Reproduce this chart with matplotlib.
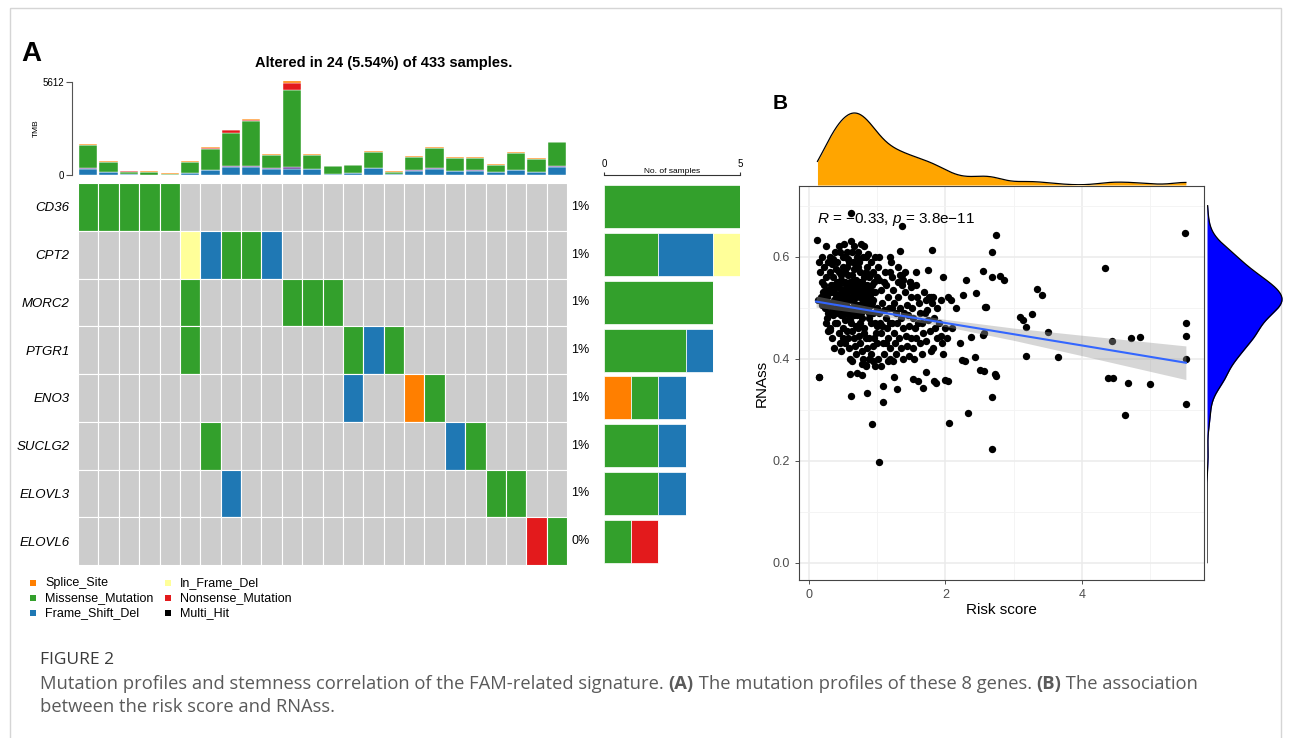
import numpy as np
import matplotlib
matplotlib.use("Agg")
import matplotlib.pyplot as plt
import matplotlib.transforms as mtransforms
from matplotlib.patches import Rectangle

plt.rcParams["font.family"] = ["Liberation Sans", "DejaVu Sans"]
plt.rcParams["mathtext.fontset"] = "custom"
plt.rcParams["mathtext.it"] = "Liberation Sans:italic"
plt.rcParams["mathtext.rm"] = "Liberation Sans"

W, H = 1290, 738

# ---------------- panel A data ----------------
genes = ["CD36", "CPT2", "MORC2", "PTGR1", "ENO3", "SUCLG2", "ELOVL3", "ELOVL6"]
gene_pct = ["1%", "1%", "1%", "1%", "1%", "1%", "1%", "0%"]
# S splice, M missense, F frame shift del, I in frame del, N nonsense, . none
onco = [
    "MMMMM...................",
    ".....IFMMF..............",
    ".....M....MMM...........",
    ".....M.......MFM........",
    ".............F..SM......",
    "......M...........FM....",
    ".......F............MM..",
    "......................NM",
]

# TMB stacked bar per sample
tmb_fs_del = [340, 180, 40, 30, 20, 140, 300, 480, 480, 340, 380, 340, 40, 140, 420, 40, 260, 360, 260, 240, 160, 300, 200, 460]
tmb_fs_ins = [80, 0, 0, 0, 0, 0, 0, 60, 60, 60, 80, 0, 0, 0, 0, 0, 40, 60, 0, 40, 0, 0, 0, 60]
tmb_missense = [1402, 613, 170, 150, 50, 650, 1240, 2015, 2745, 812, 4690, 850, 500, 480, 950, 160, 770, 1180, 790, 770, 440, 1020, 760, 1450]
tmb_nonsense = [0, 0, 30, 20, 0, 0, 100, 150, 40, 0, 400, 0, 0, 0, 0, 0, 0, 0, 0, 0, 0, 0, 0, 0]
tmb_splice = [60, 30, 20, 20, 30, 50, 40, 40, 80, 50, 100, 50, 20, 0, 50, 60, 50, 60, 30, 30, 40, 40, 40, 50]
tmb_max = 5612

vc_names = ["Splice_Site", "Missense_Mutation", "Frame_Shift_Del", "In_Frame_Del", "Nonsense_Mutation", "Multi_Hit"]
vc_codes = ["S", "M", "F", "I", "N", "H"]
vc_colors = ["#FF7F00", "#33A02C", "#1F78B4", "#FFFF99", "#E31A1C", "black"]
purple = "#6A3D9A"
bg_gray = "#CCCCCC"

# ---------------- panel B data ----------------
# dense part of the cloud (risk score, RNAss)
dense_pts = [
    (0.12, 0.633), (0.15, 0.365), (0.14, 0.59), (0.16, 0.57), (0.18, 0.55), (0.17, 0.52), (0.13, 0.515), (0.19, 0.60), (0.2, 0.53), (0.18, 0.505),
    (0.22, 0.58), (0.24, 0.56), (0.21, 0.545), (0.25, 0.62), (0.27, 0.59), (0.23, 0.50), (0.26, 0.48), (0.28, 0.455), (0.29, 0.53), (0.22, 0.515),
    (0.27, 0.51), (0.3, 0.57), (0.25, 0.47),
    (0.31, 0.60), (0.33, 0.585), (0.35, 0.56), (0.32, 0.545), (0.38, 0.61), (0.36, 0.53), (0.34, 0.50), (0.37, 0.49), (0.39, 0.575), (0.31, 0.46),
    (0.33, 0.44), (0.36, 0.42), (0.39, 0.52), (0.35, 0.595), (0.4, 0.55), (0.38, 0.47), (0.32, 0.51),
    (0.41, 0.59), (0.43, 0.57), (0.45, 0.61), (0.47, 0.555), (0.42, 0.54), (0.44, 0.525), (0.46, 0.50), (0.48, 0.485), (0.49, 0.58), (0.41, 0.47),
    (0.43, 0.45), (0.45, 0.43), (0.47, 0.415), (0.5, 0.60), (0.48, 0.535), (0.46, 0.565), (0.44, 0.62), (0.42, 0.505), (0.5, 0.46), (0.49, 0.44),
    (0.51, 0.625), (0.53, 0.60), (0.55, 0.58), (0.57, 0.565), (0.52, 0.55), (0.54, 0.535), (0.56, 0.52), (0.58, 0.50), (0.59, 0.59), (0.51, 0.49),
    (0.53, 0.475), (0.55, 0.455), (0.57, 0.44), (0.59, 0.42), (0.6, 0.40), (0.52, 0.57), (0.56, 0.61), (0.58, 0.545), (0.54, 0.51), (0.6, 0.475),
    (0.57, 0.595), (0.53, 0.43),
    (0.61, 0.63), (0.62, 0.61), (0.64, 0.59), (0.66, 0.575), (0.68, 0.555), (0.63, 0.54), (0.65, 0.525), (0.67, 0.505), (0.69, 0.49), (0.61, 0.47),
    (0.63, 0.455), (0.65, 0.44), (0.67, 0.425), (0.69, 0.41), (0.62, 0.395), (0.7, 0.60), (0.66, 0.62), (0.64, 0.50), (0.68, 0.465), (0.7, 0.53),
    (0.62, 0.565), (0.69, 0.58), (0.66, 0.485),
    (0.71, 0.61), (0.73, 0.59), (0.75, 0.57), (0.77, 0.55), (0.72, 0.535), (0.74, 0.52), (0.76, 0.50), (0.78, 0.48), (0.79, 0.60), (0.71, 0.46),
    (0.73, 0.445), (0.75, 0.43), (0.77, 0.415), (0.79, 0.40), (0.8, 0.56), (0.72, 0.505), (0.76, 0.625), (0.78, 0.53), (0.74, 0.47), (0.8, 0.45),
    (0.71, 0.58), (0.77, 0.39),
    (0.81, 0.62), (0.83, 0.60), (0.85, 0.58), (0.87, 0.56), (0.82, 0.54), (0.84, 0.52), (0.86, 0.50), (0.88, 0.48), (0.89, 0.565), (0.81, 0.46),
    (0.83, 0.44), (0.85, 0.42), (0.87, 0.40), (0.84, 0.385), (0.9, 0.53), (0.82, 0.50), (0.88, 0.44), (0.86, 0.605), (0.9, 0.47), (0.84, 0.57),
    (0.91, 0.59), (0.93, 0.57), (0.95, 0.55), (0.97, 0.53), (0.92, 0.51), (0.94, 0.49), (0.96, 0.47), (0.98, 0.45), (0.99, 0.43), (0.91, 0.41),
    (0.93, 0.395), (0.96, 0.385), (1.0, 0.56), (0.92, 0.545), (0.97, 0.60), (0.95, 0.44), (0.99, 0.50), (0.94, 0.425), (1.0, 0.465),
    (1.01, 0.58), (1.03, 0.555), (1.05, 0.535), (1.07, 0.51), (1.02, 0.49), (1.04, 0.47), (1.06, 0.45), (1.08, 0.43), (1.09, 0.41), (1.01, 0.40),
    (1.1, 0.55), (1.03, 0.60), (1.07, 0.465), (1.05, 0.385), (1.09, 0.495),
    (1.11, 0.57), (1.13, 0.545), (1.15, 0.52), (1.17, 0.50), (1.12, 0.48), (1.14, 0.46), (1.16, 0.44), (1.18, 0.42), (1.19, 0.40), (1.2, 0.59),
    (1.12, 0.43), (1.18, 0.47), (1.15, 0.395),
    (1.21, 0.56), (1.23, 0.535), (1.25, 0.51), (1.27, 0.49), (1.22, 0.47), (1.24, 0.45), (1.26, 0.43), (1.28, 0.41), (1.3, 0.55), (1.23, 0.395),
    (1.29, 0.47), (1.21, 0.50),
    (1.31, 0.52), (1.33, 0.50), (1.35, 0.48), (1.37, 0.46), (1.32, 0.44), (1.34, 0.42), (1.36, 0.545), (1.38, 0.40), (1.4, 0.57), (1.39, 0.49),
    (1.33, 0.565),
    (1.41, 0.53), (1.43, 0.505), (1.45, 0.485), (1.47, 0.465), (1.42, 0.445), (1.44, 0.425), (1.46, 0.405), (1.48, 0.55), (1.5, 0.52), (1.49, 0.44),
    (1.51, 0.50), (1.53, 0.48), (1.55, 0.46), (1.57, 0.44), (1.52, 0.42), (1.58, 0.52), (1.56, 0.545), (1.6, 0.47), (1.54, 0.40),
    (1.61, 0.51), (1.63, 0.49), (1.65, 0.47), (1.67, 0.45), (1.62, 0.43), (1.68, 0.53), (1.66, 0.41), (1.7, 0.49),
    (1.71, 0.515), (1.73, 0.495), (1.75, 0.475), (1.77, 0.455), (1.72, 0.435), (1.78, 0.52), (1.79, 0.415),
    (1.81, 0.52), (1.83, 0.48), (1.85, 0.46), (1.87, 0.44), (1.82, 0.42), (1.88, 0.50),
    (1.91, 0.47), (1.93, 0.445), (1.95, 0.43), (1.97, 0.41), (1.99, 0.46), (2.02, 0.44), (2.04, 0.52),
]
# extra points filling the core of the cloud
core_pts = [
    (0.26, 0.52), (0.28, 0.535), (0.3, 0.505), (0.32, 0.53), (0.34, 0.545), (0.36, 0.515), (0.37, 0.54), (0.4, 0.50), (0.41, 0.525), (0.43, 0.545),
    (0.45, 0.515), (0.47, 0.535), (0.48, 0.505), (0.5, 0.525), (0.52, 0.515), (0.54, 0.545), (0.55, 0.50), (0.56, 0.53), (0.58, 0.515), (0.6, 0.535),
    (0.61, 0.52), (0.63, 0.55), (0.64, 0.53), (0.65, 0.51), (0.67, 0.54), (0.68, 0.52), (0.7, 0.505), (0.72, 0.545), (0.73, 0.525), (0.74, 0.55),
    (0.75, 0.495), (0.77, 0.535), (0.78, 0.51), (0.8, 0.525), (0.81, 0.545), (0.82, 0.515), (0.83, 0.53), (0.85, 0.545), (0.86, 0.51), (0.88, 0.535),
    (0.89, 0.52), (0.9, 0.505), (0.92, 0.53), (0.94, 0.515), (0.24, 0.505), (0.28, 0.49), (0.35, 0.485), (0.42, 0.49), (0.46, 0.485), (0.52, 0.49),
    (0.58, 0.485), (0.64, 0.49), (0.7, 0.485), (0.76, 0.49), (0.82, 0.495), (0.88, 0.49), (0.2, 0.51), (0.23, 0.53), (0.44, 0.55), (0.6, 0.55),
]
# sparse points and outliers
sparse_pts = [
    (0.61, 0.685), (1.366, 0.660), (1.806, 0.613), (1.33, 0.611), (1.19, 0.60), (0.147, 0.364), (0.608, 0.326), (0.852, 0.333),
    (0.92, 0.271), (1.03, 0.197), (1.08, 0.315), (1.29, 0.340), (1.665, 0.343), (2.056, 0.273), (2.33, 0.294), (2.68, 0.324),
    (2.68, 0.222), (0.6, 0.37), (0.7, 0.372), (0.77, 0.368), (0.84, 0.387), (1.08, 0.346), (1.25, 0.364), (1.53, 0.36),
    (1.59, 0.357), (1.71, 0.374), (1.83, 0.356), (1.86, 0.352), (1.99, 0.358), (2.03, 0.356), (2.50, 0.378), (2.56, 0.376),
    (2.43, 0.404), (2.24, 0.397), (2.29, 0.396), (2.21, 0.431), (2.37, 0.443), (2.55, 0.446), (2.57, 0.45), (2.10, 0.460),
    (2.45, 0.528), (2.59, 0.501), (2.30, 0.554), (2.26, 0.524), (1.96, 0.561), (2.555, 0.571), (2.69, 0.561), (2.80, 0.563),
    (2.86, 0.554), (2.74, 0.642), (2.68, 0.609), (3.35, 0.536), (3.41, 0.524), (3.27, 0.488), (3.09, 0.482), (3.14, 0.476),
    (3.18, 0.462), (3.50, 0.452), (3.18, 0.405), (3.65, 0.404), (4.34, 0.578), (4.45, 0.435), (4.72, 0.441), (4.86, 0.443),
    (5.51, 0.647), (5.53, 0.469), (5.53, 0.444), (5.53, 0.399), (5.53, 0.311), (4.39, 0.362), (4.46, 0.362), (4.68, 0.352),
    (5.01, 0.350), (4.64, 0.289), (2.74, 0.366), (2.72, 0.37), (1.94, 0.515), (2.08, 0.515), (2.16, 0.499), (1.76, 0.52),
    (1.8, 0.51), (1.74, 0.574), (1.57, 0.569), (1.48, 0.55), (1.49, 0.54), (1.3, 0.58), (1.36, 0.565), (1.38, 0.555),
    (1.18, 0.57), (2.58, 0.501), (0.3, 0.456),
]
# linear fit with 95% band
fit_x = [0.1, 1.0, 2.0, 3.0, 4.0, 5.53]
fit_y = [0.512, 0.492, 0.470, 0.448, 0.426, 0.392]
fit_half = [0.011, 0.007, 0.007, 0.012, 0.020, 0.033]
stat_label = r"$R$ = −0.33, $p$ = 3.8e−11"

pts = np.array(dense_pts + core_pts + sparse_pts)
risk_score = pts[:, 0]
rnass = pts[:, 1]


def kde(values, grid):
    n = len(values)
    sd = values.std(ddof=1)
    iqr = np.subtract(*np.percentile(values, [75, 25]))
    bw = 0.9 * min(sd, iqr / 1.34) * n ** -0.2
    z = (grid[:, None] - values[None, :]) / bw
    return np.exp(-0.5 * z ** 2).sum(axis=1) / (n * bw * np.sqrt(2 * np.pi))


fig = plt.figure(figsize=(W / 100, H / 100), dpi=100)


def px_axes(x0, y0, x1, y1):
    return fig.add_axes([x0 / W, 1 - y1 / H, (x1 - x0) / W, (y1 - y0) / H])


# overlay in pixel coords for frame, letters, legend, caption
ov = px_axes(0, 0, W, H)
ov.set_xlim(0, W)
ov.set_ylim(H, 0)
ov.axis("off")
ov.add_patch(Rectangle((10, 8), 1271, 760, fill=False, ec="#D5D5D5", lw=1))
ov.text(21, 61, "A", fontsize=20, fontweight="bold", va="baseline")
ov.text(773, 109, "B", fontsize=15, fontweight="bold", va="baseline")
ov.text(384, 67, "Altered in 24 (5.54%) of 433 samples.", fontsize=10.5,
        fontweight="bold", ha="center", va="baseline")

# ---- TMB bars ----
tmb_ax = px_axes(78, 82, 567, 175)
cols = np.arange(len(tmb_fs_del)) + 0.5
bottom = np.zeros(len(cols))
for vals, color in [(tmb_fs_del, vc_colors[2]), (tmb_fs_ins, purple), (tmb_missense, vc_colors[1]),
                    (tmb_nonsense, vc_colors[4]), (tmb_splice, vc_colors[0])]:
    tmb_ax.bar(cols, vals, width=0.9, bottom=bottom, color=color, edgecolor="white",
               linewidth=0.3, clip_on=False)
    bottom += np.array(vals)
tmb_ax.set_xlim(0, 24)
tmb_ax.set_ylim(0, tmb_max)
for s in ["top", "right", "bottom"]:
    tmb_ax.spines[s].set_visible(False)
tmb_ax.spines["left"].set_position(("outward", 4))
tmb_ax.spines["left"].set_bounds(0, tmb_max)
tmb_ax.spines["left"].set_color("#555555")
tmb_ax.set_xticks([])
tmb_ax.set_yticks([0, tmb_max])
tmb_ax.tick_params(axis="y", labelsize=7, length=4, color="#555555", pad=2)
tmb_ax.set_ylabel("TMB", fontsize=6, labelpad=2)
tmb_ax.patch.set_visible(False)

# ---- oncoplot ----
onc = px_axes(78, 183, 567, 565)
code_color = dict(zip(vc_codes, vc_colors))
for r, row in enumerate(onco):
    for c, code in enumerate(row):
        onc.bar(c + 0.5, 1, bottom=r, width=1, color=code_color.get(code, bg_gray),
                edgecolor="white", linewidth=0.8)
onc.set_xlim(0, 24)
onc.set_ylim(len(genes), 0)
onc.set_xticks([])
onc.set_yticks(np.arange(len(genes)) + 0.5)
onc.set_yticklabels(genes, fontsize=9.5, fontstyle="italic")
onc.tick_params(axis="y", length=0, pad=6)
for s in onc.spines.values():
    s.set_visible(False)
for r, pct in enumerate(gene_pct):
    onc.text(24.2, r + 0.5, pct, fontsize=9, va="center", ha="left")

# ---- samples per gene ----
rb = px_axes(604, 183, 740, 565)
left = np.zeros(len(genes))
for code, color in zip(vc_codes, vc_colors):
    counts = np.array([row.count(code) for row in onco])
    rb.barh(np.arange(len(genes)) + 0.5, counts, left=left, height=0.9, color=color,
            edgecolor="white", linewidth=0.5)
    left += counts
rb.set_xlim(0, 5)
rb.set_ylim(len(genes), 0)
rb.set_yticks([])
for s in ["left", "right", "bottom"]:
    rb.spines[s].set_visible(False)
rb.spines["top"].set_position(("outward", 5.8))
rb.spines["top"].set_bounds(0, 5)
rb.spines["top"].set_color("#333333")
rb.xaxis.tick_top()
rb.set_xticks([0, 5])
rb.tick_params(axis="x", labelsize=7, length=2.5, pad=2, color="#333333")
rb.patch.set_visible(False)
rb.text(2.5, 1.031, "No. of samples", fontsize=6, ha="center", va="center",
        transform=mtransforms.blended_transform_factory(rb.transData, rb.transAxes))

# ---- legend ----
for i, (name, color) in enumerate(zip(vc_names, vc_colors)):
    colx = [33, 168][i // 3]
    rowy = [583, 598, 613][i % 3]
    ov.scatter([colx], [rowy], marker="s", s=14, color=color, linewidths=0)
    ov.text(colx + 12, rowy, name, fontsize=9, va="center", ha="left")

# ---------------- panel B ----------------
xlim = (-0.151, 5.796)
ylim = (-0.034, 0.7386)
sc = px_axes(799, 186, 1204, 580)
sc.set_xlim(*xlim)
sc.set_ylim(*ylim)
sc.set_xticks([0, 2, 4])
sc.set_xticks([1, 3, 5], minor=True)
sc.set_yticks([0, 0.2, 0.4, 0.6])
sc.set_yticklabels(["0.0", "0.2", "0.4", "0.6"])
sc.set_yticks([0.1, 0.3, 0.5, 0.7], minor=True)
sc.grid(which="major", color="#EBEBEB", lw=1.1)
sc.grid(which="minor", color="#F3F3F3", lw=0.6)
sc.set_axisbelow(True)
sc.tick_params(which="major", labelsize=9, labelcolor="#4D4D4D", color="#333333", length=2.75, width=0.6)
sc.tick_params(which="minor", length=0)
for s in sc.spines.values():
    s.set_color("#444444")
    s.set_linewidth(0.8)
sc.set_xlabel("Risk score", fontsize=11, labelpad=2)
sc.set_ylabel("RNAss", fontsize=11, labelpad=3)
sc.text(0.113, 0.666, stat_label, fontsize=11, zorder=2)
sc.scatter(risk_score, rnass, s=28, color="black", linewidths=0, zorder=3)
fx = np.array(fit_x)
fy = np.array(fit_y)
fh = np.array(fit_half)
sc.fill_between(fx, fy - fh, fy + fh, color="#999999", alpha=0.4, lw=0, zorder=4)
sc.plot(fx, fy, color="#3366FF", lw=1.5, zorder=5)

# marginal densities
gx = np.linspace(risk_score.min(), risk_score.max(), 512)
dx = kde(risk_score, gx)
td = px_axes(799, 105, 1204, 185)
td.fill_between(gx, 0, dx, color="#FFA500", lw=0)
td.plot(gx, dx, color="black", lw=0.9)
td.set_xlim(*xlim)
td.set_ylim(0, dx.max() * 1.111)
td.axis("off")

gy = np.linspace(0.0, 0.70, 512)
dy = kde(rnass, gy)
rd = px_axes(1207, 186, 1290, 580)
rd.fill_betweenx(gy, 0, dy, color="#0000FF", lw=0)
rd.plot(dy, gy, color="black", lw=0.9)
rd.set_ylim(*ylim)
rd.set_xlim(0, dy.max() * 83 / 75)
rd.axis("off")

# ---------------- caption ----------------
cap_font = ["Open Sans", "DejaVu Sans"]
cap_size = 13.2
cap_color = "#5A5A5A"
ov.text(40, 664, "FIGURE 2", fontsize=12.5, color="#3A3A3A", family=cap_font, va="baseline")
pieces = [("Mutation profiles and stemness correlation of the FAM-related signature. ", "normal"),
          ("(A)", "bold"), (" The mutation profiles of these 8 genes. ", "normal"),
          ("(B)", "bold"), (" The association", "normal")]
prev = None
for txt, wt in pieces:
    if prev is None:
        prev = ov.text(40, 693, txt, fontsize=cap_size, color=cap_color, family=cap_font,
                       fontweight=wt, va="bottom")
    else:
        prev = ov.annotate(txt, xy=(1, 0), xycoords=prev, fontsize=cap_size, color=cap_color,
                           family=cap_font, fontweight=wt, va="bottom", ha="left")
ov.text(40, 716, "between the risk score and RNAss.", fontsize=cap_size, color=cap_color,
        family=cap_font, va="bottom")

fig.savefig("out.png", dpi=100)
